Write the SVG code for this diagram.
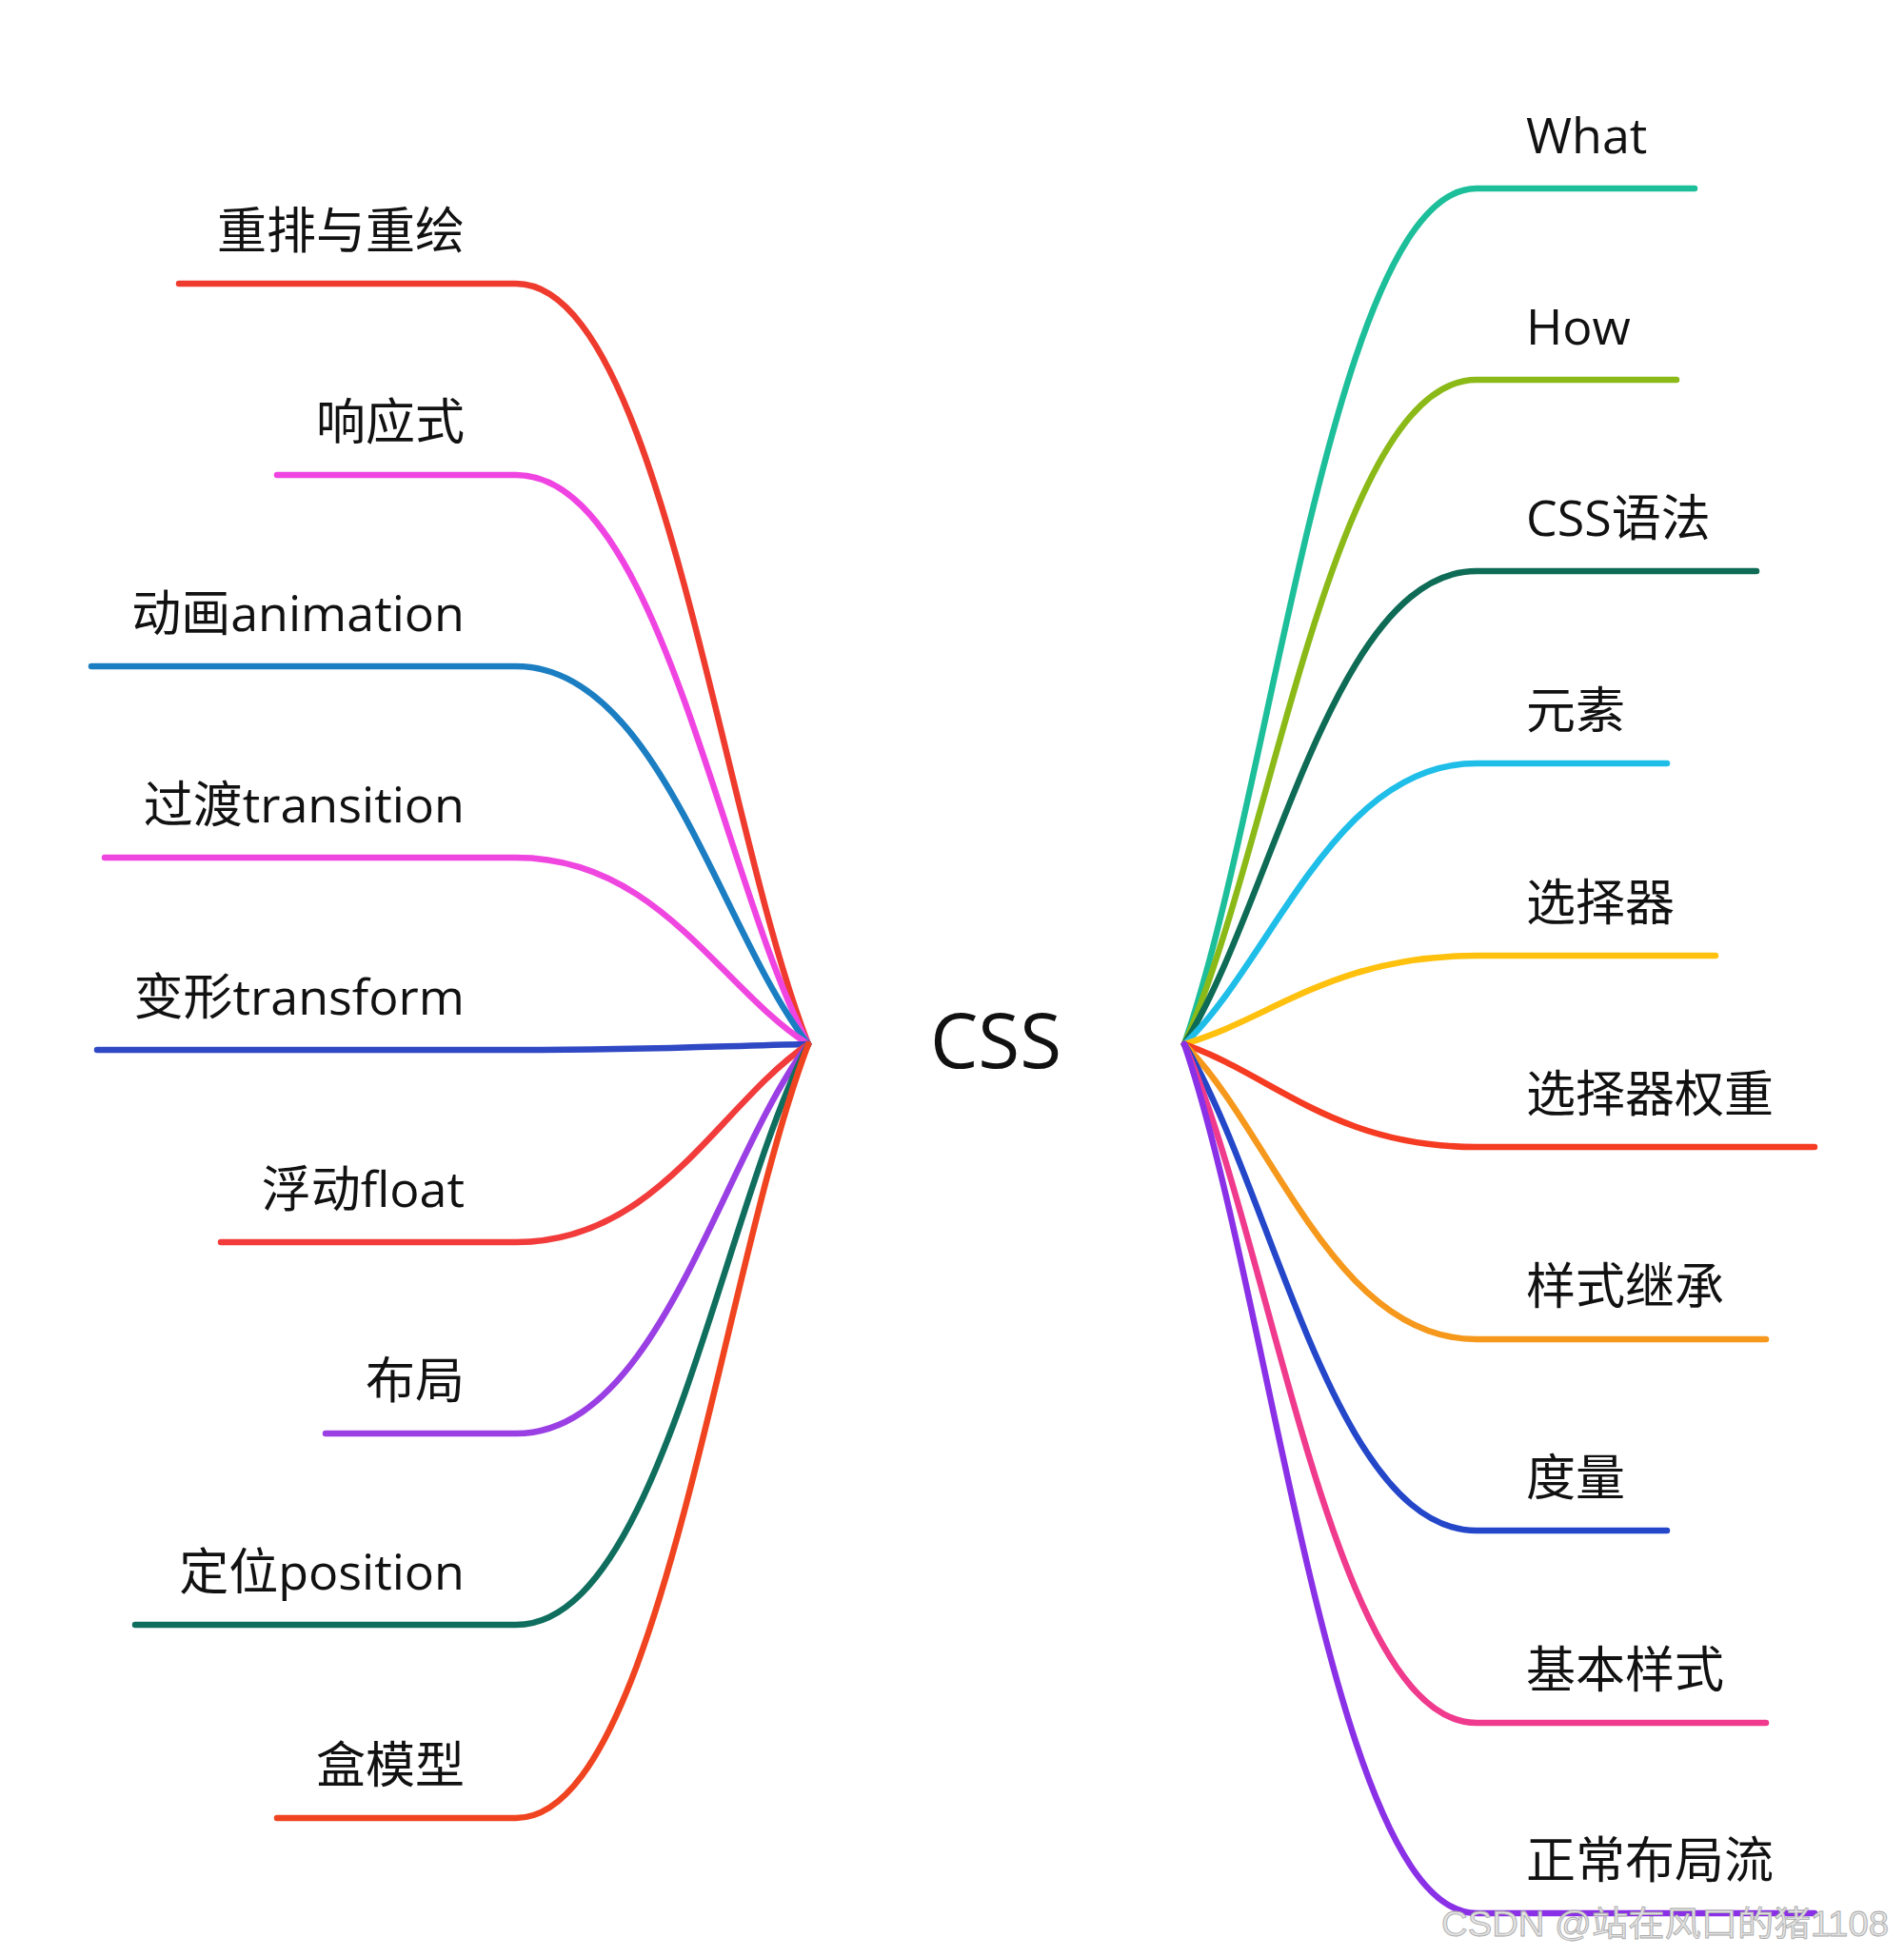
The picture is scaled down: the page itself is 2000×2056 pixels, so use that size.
<svg xmlns="http://www.w3.org/2000/svg" width="2000" height="2056" viewBox="0 0 2000 2056">
<style>
.bg{fill:#ffffff}
.lbl{font-family:"Open Sans","Noto Sans CJK SC",sans-serif;font-size:52px;fill:#111111}
.l{text-anchor:end}
.r{text-anchor:start}
.root{font-family:"Open Sans","Noto Sans CJK SC",sans-serif;font-size:80px;fill:#111111;text-anchor:middle}
.c{fill:none;stroke-width:6.5;stroke-linecap:round;stroke-linejoin:round}
.wm{font-family:"Liberation Sans","Noto Sans CJK SC",sans-serif;font-size:36px;fill:#e2e2e2;stroke:#a9a9a9;stroke-width:0.8;text-anchor:start}
</style>
<rect class="bg" x="0" y="0" width="2000" height="2056"/>
<g id="connectors">
<path class="c" stroke="#EE3B2E" d="M188 298 H542 C692 298 756 857.3 849 1097"/>
<path class="c" stroke="#F044E2" d="M291 499 H542 C692 499 756 917.6 849 1097"/>
<path class="c" stroke="#1B7EC2" d="M96 700 H542 C692 700 756 977.9 849 1097"/>
<path class="c" stroke="#F046E0" d="M110 901 H542 C692 901 756 1038.2 849 1097"/>
<path class="c" stroke="#2F48C4" d="M102 1103 H542 C692 1103 756 1098.8 849 1097"/>
<path class="c" stroke="#F23B3B" d="M232 1305 H542 C692 1305 756 1159.4 849 1097"/>
<path class="c" stroke="#9A3FE4" d="M342 1506 H542 C692 1506 756 1219.7 849 1097"/>
<path class="c" stroke="#0F6E5E" d="M142 1707 H542 C692 1707 756 1280 849 1097"/>
<path class="c" stroke="#F0431F" d="M291 1910 H542 C692 1910 756 1340.9 849 1097"/>
<path class="c" stroke="#1DBE9A" d="M1780 198 H1551 C1401 198 1337 827.3 1244 1097"/>
<path class="c" stroke="#8BBA18" d="M1761 399 H1551 C1401 399 1337 887.6 1244 1097"/>
<path class="c" stroke="#0E6B55" d="M1845 600 H1551 C1401 600 1337 947.9 1244 1097"/>
<path class="c" stroke="#1EBEE8" d="M1751 802 H1551 C1401 802 1337 1008.5 1244 1097"/>
<path class="c" stroke="#FFC10E" d="M1802 1004 H1551 C1401 1004 1337 1069.1 1244 1097"/>
<path class="c" stroke="#F53B22" d="M1906 1205 H1551 C1401 1205 1337 1129.4 1244 1097"/>
<path class="c" stroke="#F5981C" d="M1855 1407 H1551 C1401 1407 1337 1190 1244 1097"/>
<path class="c" stroke="#2447CA" d="M1751 1608 H1551 C1401 1608 1337 1250.3 1244 1097"/>
<path class="c" stroke="#EF3A8D" d="M1855 1810 H1551 C1401 1810 1337 1310.9 1244 1097"/>
<path class="c" stroke="#8A30E6" d="M1906 2010 H1551 C1401 2010 1337 1370.9 1244 1097"/>
</g>
<g id="root"><text class="root" x="1046" y="1122">CSS</text></g>
<g id="n-reflow"><text class="lbl l" x="488" y="261">重排与重绘</text></g>
<g id="n-responsive"><text class="lbl l" x="488" y="462">响应式</text></g>
<g id="n-animation"><text class="lbl l" x="488" y="663">动画animation</text></g>
<g id="n-transition"><text class="lbl l" x="488" y="864">过渡transition</text></g>
<g id="n-transform"><text class="lbl l" x="488" y="1066">变形transform</text></g>
<g id="n-float"><text class="lbl l" x="488" y="1268">浮动float</text></g>
<g id="n-layout"><text class="lbl l" x="488" y="1469">布局</text></g>
<g id="n-position"><text class="lbl l" x="488" y="1670">定位position</text></g>
<g id="n-boxmodel"><text class="lbl l" x="488" y="1873">盒模型</text></g>
<g id="n-what"><text class="lbl r" x="1603" y="161">What</text></g>
<g id="n-how"><text class="lbl r" x="1603" y="362">How</text></g>
<g id="n-syntax"><text class="lbl r" x="1603" y="563">CSS语法</text></g>
<g id="n-element"><text class="lbl r" x="1603" y="765">元素</text></g>
<g id="n-selector"><text class="lbl r" x="1603" y="967">选择器</text></g>
<g id="n-specificity"><text class="lbl r" x="1603" y="1168">选择器权重</text></g>
<g id="n-inherit"><text class="lbl r" x="1603" y="1370">样式继承</text></g>
<g id="n-measure"><text class="lbl r" x="1603" y="1571">度量</text></g>
<g id="n-basic"><text class="lbl r" x="1603" y="1773">基本样式</text></g>
<g id="n-flow"><text class="lbl r" x="1603" y="1973">正常布局流</text></g>
<text class="wm" x="1514" y="2034" textLength="470" lengthAdjust="spacingAndGlyphs">CSDN @站在风口的猪1108</text>
</svg>
